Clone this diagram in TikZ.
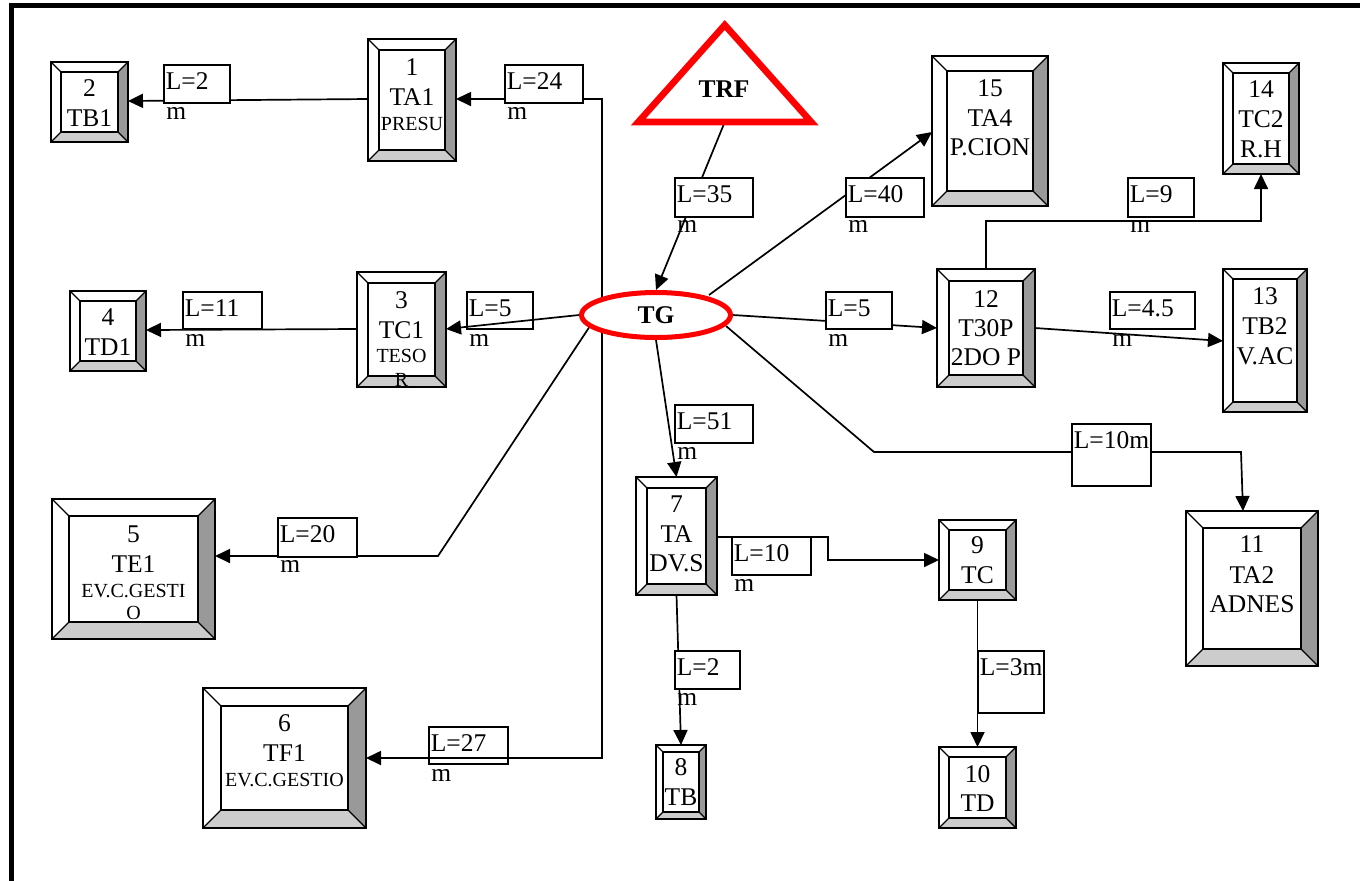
\documentclass[tikz,border=0pt]{standalone}
\usepackage{fontspec}
\setmainfont{Liberation Serif}
\usetikzlibrary{arrows.meta,calc,shapes.geometric}
\pgfdeclarelayer{bg}
\pgfsetlayers{bg,main}
\newcounter{tnum}
\tikzset{
  conn/.style={line width=0.85pt, -{Triangle[length=7.5pt,width=7pt]}},
  tankbox/.style={rectangle, inner sep=0pt, outer sep=0pt, fill=white},
  rface/.style={fill=black!40},
  bface/.style={fill=black!20},
  bevline/.style={line width=0.9pt},
  diagline/.style={line width=0.6pt},
  tmain/.style={anchor=base, inner sep=0pt, font=\fontsize{12.75}{14}\selectfont},
  tsmall/.style={anchor=base, inner sep=0pt, font=\fontsize{10}{12}\selectfont},
  lblbox/.style={rectangle, draw, line width=0.9pt, fill=white, inner sep=0pt, outer sep=0pt},
  lblopen/.style={rectangle, draw, line width=0.9pt, fill=none, inner sep=0pt, outer sep=0pt},
  lbltext/.style={anchor=base west, inner sep=0pt, font=\fontsize{12.75}{14}\selectfont},
}
% name, x1, y1, x2, y2, bevel
\newcommand\mktank[6]{%
  \node[tankbox, minimum width={(#4-#2)*0.5pt}, minimum height={(#5-#3)*0.5pt}] (#1) at ({(#2+#4)/2},{(#3+#5)/2}) {};
  \fill[rface] (#4,#3) -- (#4,#5) -- ({#4-#6},{#5-#6}) -- ({#4-#6},{#3+#6}) -- cycle;
  \fill[bface] (#2,#5) -- (#4,#5) -- ({#4-#6},{#5-#6}) -- ({#2+#6},{#5-#6}) -- cycle;
  \draw[diagline] (#2,#3) -- ({#2+#6},{#3+#6});
  \draw[diagline] (#4,#3) -- ({#4-#6},{#3+#6});
  \draw[diagline] (#4,#5) -- ({#4-#6},{#5-#6});
  \draw[diagline] (#2,#5) -- ({#2+#6},{#5-#6});
  \draw[bevline] ({#2+#6},{#3+#6}) rectangle ({#4-#6},{#5-#6});
  \draw[bevline] (#1.north west) rectangle (#1.south east);
}
\newcommand\tankline[3]{\stepcounter{tnum}\node[tmain] (txt\thetnum) at (#1,#2) {#3};}
\newcommand\tanksmall[3]{\stepcounter{tnum}\node[tsmall] (txt\thetnum) at (#1,#2) {#3};}
% style, name, x1, y1, x2, y2, text1, text2
\newcommand\lenlabel[8]{%
  \node[#1, minimum width={(#5-#3)*0.5pt}, minimum height={(#6-#4)*0.5pt}] (#2) at ({(#3+#5)/2},{(#4+#6)/2}) {};
  \node[lbltext] (#2a) at ({#3+1.5},{#4+24.5}) {#7};
  \node[lbltext] (#2b) at ({#3+2},{#4+54.5}) {#8};
}
\begin{document}
\begin{tikzpicture}[x=0.5pt,y=-0.5pt]
\useasboundingbox (0,0) rectangle (1360,880);
% frame
\draw[line width=2.5pt, line join=miter] (11.5,890) -- (11.5,5.8) -- (1370,5.8);

% TRF triangle
\node[inner sep=0pt, outer sep=0pt, minimum width=86.5pt, minimum height=48.5pt] (TRF) at (724.75,73.5) {};
\draw[red, line width=3.3pt, line join=miter] (TRF.south west) -- (TRF.south east) -- (TRF.north) -- cycle;
\node[inner sep=0pt, font=\fontsize{12.75}{14}\selectfont\bfseries] (TRFt) at (724,89) {TRF};

% TG ellipse
\node[ellipse, draw=red, line width=2.5pt, fill=white, minimum width=74.5pt, minimum height=22.5pt, inner sep=0pt, font=\fontsize{12.75}{14}\selectfont\bfseries] (TG) at (656,315) {TG};

% tanks
\mktank{b2}{51}{62}{128}{142}{10}
\tankline{89.5}{96.5}{2}\tankline{89.5}{126}{TB1}
\mktank{b1}{368}{39}{456}{161}{11}
\tankline{412}{75}{1}\tankline{412}{105}{TA1}\tanksmall{412}{130.5}{PRESU}
\mktank{b15}{932}{56}{1048}{206}{15}
\tankline{990}{96}{15}\tankline{990}{126}{TA4}\tankline{990}{155}{P.CION}
\mktank{b14}{1223}{63}{1299}{174}{10}
\tankline{1261}{97}{14}\tankline{1261}{127}{TC2}\tankline{1261}{157}{R.H}
\mktank{b4}{70}{291}{146}{371}{10}
\tankline{108}{325}{4}\tankline{108}{355}{TD1}
\mktank{b3}{357}{272}{446}{387}{11}
\tankline{401.5}{308}{3}\tankline{401.5}{338}{TC1}\tanksmall{401.5}{362}{TESO}\tanksmall{401.5}{386}{R}
\mktank{b12}{937}{269}{1035}{387}{12}
\tankline{986}{307}{12}\tankline{986}{336}{T30P}\tankline{986}{365}{2DO P}
\mktank{b13}{1223}{269}{1307}{412}{10}
\tankline{1265}{304}{13}\tankline{1265}{334.5}{TB2}\tankline{1265}{364}{V.AC}
\mktank{b5}{52}{499}{215}{639}{17}
\tankline{133.5}{542}{5}\tankline{133.5}{572}{TE1}\tanksmall{133.5}{597}{EV.C.GESTI}\tanksmall{133.5}{619}{O}
\mktank{b6}{203}{688}{366}{828}{18}
\tankline{284.5}{731}{6}\tankline{284.5}{761}{TF1}\tanksmall{284.5}{786}{EV.C.GESTIO}
\mktank{b7}{636}{477}{717}{595}{11}
\tankline{676.5}{512}{7}\tankline{676.5}{542}{TA}\tankline{676.5}{571}{DV.S}
\mktank{b8}{656}{745}{706}{819}{7}
\tankline{681}{775}{8}\tankline{681}{805}{TB}
\mktank{b9}{939}{520}{1016}{600}{10}
\tankline{977.5}{553}{9}\tankline{977.5}{583}{TC}
\mktank{b10}{939}{747}{1016}{828}{10}
\tankline{977.5}{782}{10}\tankline{977.5}{811}{TD}
\mktank{b11}{1186}{511}{1318}{666}{17}
\tankline{1252}{552}{11}\tankline{1252}{583}{TA2}\tankline{1252}{612}{ADNES}

% length labels
\lenlabel{lblbox}{lA}{164}{65}{230}{103}{L=2}{m}
\lenlabel{lblbox}{lB}{505}{65}{583}{103}{L=24}{m}
\lenlabel{lblbox}{lC}{675}{178}{753}{217}{L=35}{m}
\lenlabel{lblbox}{lD}{846}{178}{924}{217}{L=40}{m}
\lenlabel{lblbox}{lE}{1128}{178}{1194}{217}{L=9}{m}
\lenlabel{lblbox}{lF}{183}{292}{262}{329}{L=11}{m}
\lenlabel{lblopen}{lG}{467}{292}{533}{329}{L=5}{m}
\lenlabel{lblbox}{lH}{826}{292}{892}{329}{L=5}{m}
\lenlabel{lblbox}{lI}{1110}{292}{1195}{329}{L=4.5}{m}
\lenlabel{lblbox}{lJ}{675}{405}{753}{443}{L=51}{m}
\lenlabel{lblbox}{lK}{1072}{424}{1151}{486}{L=10m}{}
\lenlabel{lblbox}{lL}{278}{518}{357}{557}{L=20}{m}
\lenlabel{lblbox}{lM}{732}{537}{811}{575}{L=10}{m}
\lenlabel{lblbox}{lN}{675}{651}{740}{689}{L=2}{m}
\lenlabel{lblbox}{lO}{978}{651}{1044}{713}{L=3m}{}
\lenlabel{lblopen}{lP}{429}{727}{508}{764}{L=27}{m}

% connectors
\begin{pgfonlayer}{bg}
\draw[conn] (TRF.south) -- (TG.north);
\draw[conn] ($(TG.center)+(-54,0)$) |- (b1.east |- 0,99);
\draw[conn] ($(TG.center)+(-54,0)$) |- (b6.east |- 0,758);
\draw[conn] (TG.west) -- (b3.east |- 0,329);
\draw[conn] (b1.west |- 0,99) -- (b2.east |- 0,101);
\draw[conn] (b3.west |- 0,329) -- (b4.east |- 0,330);
\draw[conn] ($(TG.center)+(-64,8)$) -- (438,556) -- (b5.east |- 0,556);
\draw[conn] (TG.south) -- (b7.north);
\draw[conn] (b7.south) -- (b8.north);
\draw[conn] (b7.east |- 0,537) -- (828,537) |- (b9.west);
\draw[conn] (b9.south) -- (b10.north);
\draw[conn] (TG.east) -- (b12.west |- 0,328);
\draw[conn] (b12.east |- 0,328) -- (b13.west |- 0,341);
\draw[conn] (b12.north) |- ($(b14.south)+(0,47)$) -- (b14.south);
\draw[conn] ($(TG.center)+(53,-20)$) -- (b15.west |- 0,132);
\draw[conn] ($(TG.center)+(70,11)$) -- (874,452) -- (1241,452) -- (b11.north -| 1243,0);
\end{pgfonlayer}
\end{tikzpicture}
\end{document}
